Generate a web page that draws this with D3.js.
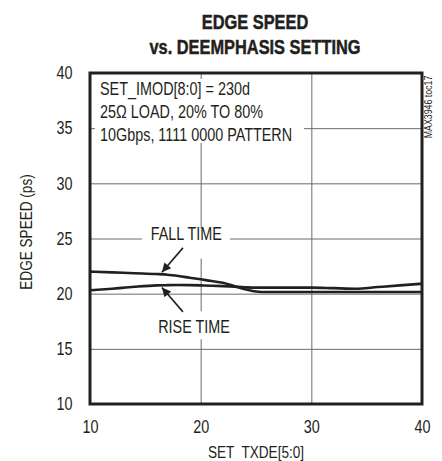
<!DOCTYPE html>
<html>
<head>
<meta charset="utf-8">
<script src="https://cdn.jsdelivr.net/npm/d3@7"></script>
<style>
  body { margin: 0; background: #fff; }
  text { font-family: "Liberation Sans", Arial, sans-serif; fill: #231f20; }
</style>
</head>
<body>
<div id="chart"></div>
<script>
// values
const txde     = [10, 12, 14, 16, 17, 18, 19, 20, 21, 22, 23, 24, 25, 26, 28, 30, 32, 34, 36, 38, 40];
const fallTime = [22.0, 21.93, 21.85, 21.78, 21.72, 21.6, 21.45, 21.3, 21.15, 20.98, 20.7, 20.4, 20.2, 20.15, 20.15, 20.15, 20.15, 20.15, 20.15, 20.15, 20.15];
const riseTime = [20.3, 20.45, 20.62, 20.75, 20.77, 20.78, 20.77, 20.75, 20.72, 20.68, 20.63, 20.58, 20.55, 20.55, 20.55, 20.55, 20.5, 20.45, 20.6, 20.75, 20.9];
const xTicks = [10, 20, 30, 40];
const yTicks = [10, 15, 20, 25, 30, 35, 40];
const noteLines = ["SET_IMOD[8:0] = 230d", "25\u03A9 LOAD, 20% TO 80%", "10Gbps, 1111 0000 PATTERN"];

const W = 442, H = 461;
const margin = {top: 73, right: 20, bottom: 57, left: 90};
const width = W - margin.left - margin.right;
const height = H - margin.top - margin.bottom;
const narrow = 0.8;   // fake condensed face

const svg = d3.select("#chart").append("svg")
    .attr("width", W)
    .attr("height", H);

const g = svg.append("g")
    .attr("transform", `translate(${margin.left},${margin.top})`);

const x = d3.scaleLinear().domain([10, 40]).range([0, width]);
const y = d3.scaleLinear().domain([10, 40]).range([height, 0]);

// text squeezed horizontally around its anchor point
function label(parent, px, py, str, size, opts = {}) {
  const t = parent.append("g")
      .attr("transform", `translate(${px},${py}) rotate(${opts.rotate || 0}) scale(${opts.sx || narrow},1)`)
    .append("text")
      .attr("text-anchor", opts.anchor || "start")
      .style("font-size", size + "px")
      .style("font-weight", opts.bold ? "bold" : null)
      .style("white-space", "pre")
      .text(str);
  if (opts.bold) t.attr("stroke", "#231f20").attr("stroke-width", 0.5);
  return t;
}

// grid + tick labels
const xAxis = g.append("g")
    .attr("transform", `translate(0,${height})`)
    .call(d3.axisBottom(x).tickValues(xTicks).tickSize(-height).tickPadding(16));
const yAxis = g.append("g")
    .call(d3.axisLeft(y).tickValues(yTicks).tickSize(-width).tickPadding(22));

[xAxis, yAxis].forEach(a => {
  a.select(".domain").remove();
  a.selectAll("line").attr("stroke", "#6b6b6b").attr("stroke-width", 1);
  a.selectAll("text")
      .style("font-size", "18px")
      .attr("fill", "#231f20")
      .attr("transform", `scale(${narrow},1)`);
});

// white boxes behind the notes break the grid
g.append("rect")
    .attr("x", 5).attr("y", 6)
    .attr("width", 209).attr("height", 64)
    .attr("fill", "#fff");

g.append("rect")
    .attr("x", x(14.7)).attr("y", y(25.9))
    .attr("width", 88).attr("height", 30)
    .attr("fill", "#fff");

g.append("rect")
    .attr("x", x(15.4)).attr("y", y(18.4))
    .attr("width", 90).attr("height", 28)
    .attr("fill", "#fff");

noteLines.forEach((d, i) => label(g, 10, 22 + i * 23, d, 18));

// curves
const line = d3.line()
    .x((d, i) => x(txde[i]))
    .y(d => y(d))
    .curve(d3.curveMonotoneX);

g.append("path")
    .datum(fallTime)
    .attr("d", line)
    .attr("fill", "none")
    .attr("stroke", "#231f20")
    .attr("stroke-width", 2.6);

g.append("path")
    .datum(riseTime)
    .attr("d", line)
    .attr("fill", "none")
    .attr("stroke", "#231f20")
    .attr("stroke-width", 2.6);

// arrows
svg.append("defs").append("marker")
    .attr("id", "head")
    .attr("viewBox", "0 0 10 10")
    .attr("refX", 10).attr("refY", 5)
    .attr("markerWidth", 11).attr("markerHeight", 9)
    .attr("markerUnits", "userSpaceOnUse")
    .attr("orient", "auto")
  .append("path")
    .attr("d", "M0,0L10,5L0,10z")
    .attr("fill", "#231f20");

const arrows = [
  {from: [18.4, 24.15], to: [16.5, 21.95]},
  {from: [18.4, 18.35], to: [16.5, 20.55]}
];
g.selectAll(".arrow")
  .data(arrows)
  .enter().append("line")
    .attr("class", "arrow")
    .attr("x1", d => x(d.from[0])).attr("y1", d => y(d.from[1]))
    .attr("x2", d => x(d.to[0])).attr("y2", d => y(d.to[1]))
    .attr("stroke", "#231f20")
    .attr("stroke-width", 1.6)
    .attr("marker-end", "url(#head)");

label(g, x(18.7), y(24.87), "FALL TIME", 18, {anchor: "middle"});
label(g, x(19.4), y(16.44), "RISE TIME", 18, {anchor: "middle"});

// frame
g.append("rect")
    .attr("width", width).attr("height", height)
    .attr("fill", "none")
    .attr("stroke", "#231f20")
    .attr("stroke-width", 3);

// titles
label(svg, 255, 29, "EDGE SPEED", 21, {anchor: "middle", bold: true, sx: 0.78});
label(svg, 255, 54, "vs. DEEMPHASIS SETTING", 21, {anchor: "middle", bold: true, sx: 0.78});

label(svg, margin.left + width / 2, 458, "SET  TXDE[5:0]", 17, {anchor: "middle"});
label(svg, 32, 232, "EDGE SPEED (ps)", 17, {anchor: "middle", rotate: -90});
label(svg, 432, 107, "MAX3946 toc17", 11, {anchor: "middle", rotate: -90});
</script>
</body>
</html>
